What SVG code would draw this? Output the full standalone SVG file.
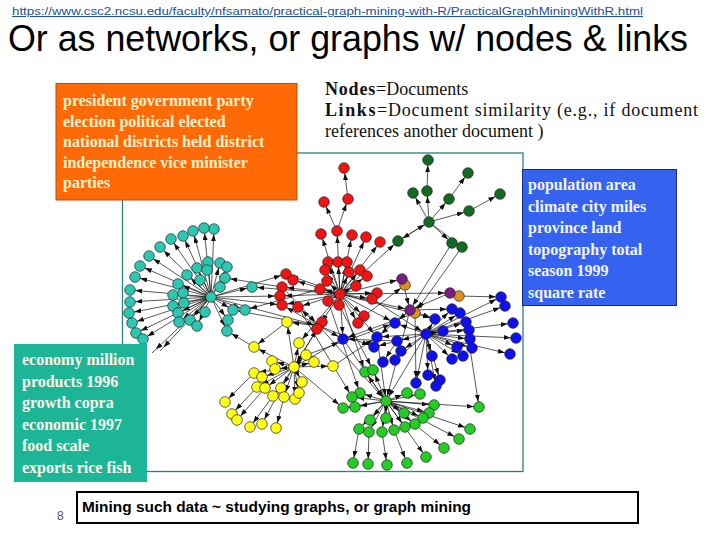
<svg xmlns="http://www.w3.org/2000/svg" width="720" height="540" viewBox="0 0 720 540">
<defs>
<marker id="ah" markerUnits="userSpaceOnUse" markerWidth="7" markerHeight="5" refX="12.3" refY="2.5" orient="auto"><path d="M0,0 L7,2.5 L0,5 z" fill="#111"/></marker>
<style>
.e line{stroke:#111;stroke-width:0.7;marker-end:url(#ah)}
.n circle{r:5.3;stroke:#222;stroke-width:0.7}
.cy{fill:#2cc7b3}.rd{fill:#f01414}.dg{fill:#136b22}.pu{fill:#7b1c86}.or{fill:#e0901e}.bl{fill:#1010ee}.lg{fill:#24cc24}.ye{fill:#ffff14}
.box{font-family:"Liberation Serif","Times New Roman",serif;font-weight:bold;font-size:16px}
</style>
</defs>
<rect width="720" height="540" fill="#fff"/>
<g id="url"><text x="12" y="15" font-family="Liberation Sans, Arial, sans-serif" font-size="10.5" fill="#1d4f9e" text-decoration="underline" textLength="631" lengthAdjust="spacingAndGlyphs">https://www.csc2.ncsu.edu/faculty/nfsamato/practical-graph-mining-with-R/PracticalGraphMiningWithR.html</text></g>
<g id="title"><text x="8" y="50.5" font-family="Liberation Sans, Arial, sans-serif" font-size="36" fill="#000" textLength="680" lengthAdjust="spacingAndGlyphs">Or as networks, or graphs w/ nodes &amp; links</text></g>
<g id="graph-frame"><rect x="122.5" y="153" width="400.5" height="318.5" fill="#fff" stroke="#2a7f80" stroke-width="1.3"/></g>
<g id="connectors" class="e">
<line x1="211" y1="297" x2="214" y2="229"/><line x1="211" y1="297" x2="204" y2="228"/><line x1="211" y1="297" x2="193" y2="231"/><line x1="211" y1="297" x2="183" y2="236"/><line x1="211" y1="297" x2="171" y2="239"/><line x1="211" y1="297" x2="160" y2="247"/><line x1="211" y1="297" x2="149" y2="256"/><line x1="211" y1="297" x2="140" y2="266"/><line x1="211" y1="297" x2="135" y2="277"/><line x1="211" y1="297" x2="130" y2="290"/><line x1="211" y1="297" x2="130" y2="302"/><line x1="211" y1="297" x2="129" y2="313"/><line x1="211" y1="297" x2="132" y2="323"/><line x1="211" y1="297" x2="136" y2="333"/><line x1="211" y1="297" x2="143" y2="339"/><line x1="211" y1="297" x2="208" y2="262"/><line x1="211" y1="297" x2="220" y2="263"/><line x1="211" y1="297" x2="227" y2="267"/><line x1="211" y1="297" x2="197" y2="268"/><line x1="211" y1="297" x2="187" y2="275"/><line x1="211" y1="297" x2="225" y2="278"/><line x1="211" y1="297" x2="178" y2="284"/><line x1="211" y1="297" x2="173" y2="295"/><line x1="211" y1="297" x2="173" y2="306"/><line x1="211" y1="297" x2="178" y2="313"/><line x1="211" y1="297" x2="190" y2="320"/><line x1="211" y1="297" x2="179" y2="322"/><line x1="211" y1="297" x2="197" y2="326"/><line x1="211" y1="297" x2="233" y2="310"/><line x1="211" y1="297" x2="245" y2="310"/><line x1="211" y1="297" x2="228" y2="320"/><line x1="211" y1="297" x2="227" y2="331"/><line x1="211" y1="297" x2="252" y2="287"/><line x1="211" y1="297" x2="152" y2="353"/><line x1="211" y1="297" x2="160" y2="351"/>
<line x1="211" y1="297" x2="286" y2="274"/><line x1="211" y1="297" x2="280" y2="296"/><line x1="211" y1="297" x2="282" y2="305"/><line x1="211" y1="297" x2="319" y2="326"/>
<line x1="340" y1="294" x2="252" y2="287"/><line x1="320" y1="289" x2="245" y2="310"/><line x1="319" y1="326" x2="233" y2="310"/><line x1="282" y1="287" x2="225" y2="278"/>
<line x1="340" y1="294" x2="337" y2="231"/><line x1="337" y1="231" x2="324" y2="202"/><line x1="337" y1="231" x2="348" y2="199"/><line x1="348" y1="199" x2="344" y2="168"/>
<line x1="340" y1="294" x2="321" y2="234"/><line x1="340" y1="294" x2="352" y2="235"/><line x1="340" y1="294" x2="366" y2="237"/><line x1="340" y1="294" x2="380" y2="242"/><line x1="340" y1="294" x2="328" y2="262"/><line x1="340" y1="294" x2="338" y2="262"/><line x1="340" y1="294" x2="347" y2="262"/><line x1="340" y1="294" x2="325" y2="270"/><line x1="340" y1="294" x2="349" y2="272"/><line x1="340" y1="294" x2="360" y2="270"/><line x1="340" y1="294" x2="367" y2="276"/><line x1="340" y1="294" x2="327" y2="281"/><line x1="340" y1="294" x2="356" y2="286"/><line x1="340" y1="294" x2="320" y2="289"/><line x1="340" y1="294" x2="328" y2="301"/><line x1="340" y1="294" x2="339" y2="305"/><line x1="340" y1="294" x2="377" y2="293"/><line x1="340" y1="294" x2="372" y2="299"/><line x1="340" y1="294" x2="364" y2="316"/><line x1="340" y1="294" x2="358" y2="323"/><line x1="340" y1="294" x2="286" y2="274"/><line x1="340" y1="294" x2="293" y2="280"/><line x1="340" y1="294" x2="282" y2="287"/><line x1="340" y1="294" x2="280" y2="296"/><line x1="340" y1="294" x2="282" y2="305"/><line x1="340" y1="294" x2="298" y2="307"/><line x1="340" y1="294" x2="319" y2="326"/>
<line x1="319" y1="326" x2="282" y2="305"/><line x1="319" y1="326" x2="298" y2="307"/><line x1="282" y1="287" x2="319" y2="326"/>
<line x1="340" y1="294" x2="398" y2="241"/><line x1="398" y1="241" x2="429" y2="222"/><line x1="429" y1="222" x2="398" y2="241"/>
<line x1="429" y1="222" x2="427" y2="191"/><line x1="427" y1="191" x2="428" y2="160"/><line x1="429" y1="222" x2="413" y2="193"/><line x1="429" y1="222" x2="449" y2="199"/><line x1="449" y1="199" x2="468" y2="173"/><line x1="429" y1="222" x2="469" y2="211"/><line x1="469" y1="211" x2="500" y2="194"/><line x1="429" y1="222" x2="452" y2="243"/><line x1="429" y1="222" x2="462" y2="247"/>
<line x1="452" y1="243" x2="410" y2="310"/><line x1="462" y1="247" x2="415" y2="313"/>
<line x1="340" y1="294" x2="402" y2="279"/><line x1="340" y1="294" x2="450" y2="293"/><line x1="402" y1="279" x2="410" y2="310"/><line x1="450" y1="293" x2="410" y2="310"/><line x1="340" y1="294" x2="410" y2="310"/><line x1="364" y1="316" x2="405" y2="285"/>
<line x1="410" y1="310" x2="377" y2="337"/><line x1="410" y1="310" x2="395" y2="323"/><line x1="410" y1="310" x2="435" y2="319"/><line x1="410" y1="310" x2="452" y2="309"/><line x1="459" y1="296" x2="501" y2="297"/><line x1="410" y1="310" x2="386" y2="401"/><line x1="415" y1="313" x2="343" y2="339"/><line x1="415" y1="313" x2="416" y2="383"/>
<line x1="426" y1="334" x2="501" y2="297"/><line x1="426" y1="334" x2="505" y2="306"/><line x1="426" y1="334" x2="452" y2="309"/><line x1="426" y1="334" x2="460" y2="313"/><line x1="426" y1="334" x2="513" y2="323"/><line x1="426" y1="334" x2="435" y2="319"/><line x1="426" y1="334" x2="466" y2="322"/><line x1="426" y1="334" x2="395" y2="323"/><line x1="426" y1="334" x2="469" y2="330"/><line x1="426" y1="334" x2="443" y2="331"/><line x1="426" y1="334" x2="516" y2="338"/><line x1="426" y1="334" x2="377" y2="337"/><line x1="426" y1="334" x2="397" y2="341"/><line x1="426" y1="334" x2="470" y2="339"/><line x1="426" y1="334" x2="457" y2="347"/><line x1="426" y1="334" x2="472" y2="348"/><line x1="426" y1="334" x2="510" y2="354"/><line x1="426" y1="334" x2="432" y2="356"/><line x1="426" y1="334" x2="452" y2="359"/><line x1="426" y1="334" x2="463" y2="356"/><line x1="426" y1="334" x2="428" y2="375"/><line x1="426" y1="334" x2="440" y2="380"/><line x1="426" y1="334" x2="416" y2="383"/><line x1="426" y1="334" x2="436" y2="386"/><line x1="426" y1="334" x2="401" y2="351"/><line x1="426" y1="334" x2="395" y2="360"/>
<line x1="397" y1="341" x2="343" y2="339"/><line x1="397" y1="341" x2="374" y2="347"/><line x1="397" y1="341" x2="383" y2="362"/><line x1="397" y1="341" x2="401" y2="351"/>
<line x1="340" y1="294" x2="343" y2="339"/><line x1="340" y1="294" x2="377" y2="337"/><line x1="340" y1="294" x2="395" y2="323"/><line x1="340" y1="294" x2="435" y2="319"/><line x1="319" y1="326" x2="374" y2="347"/><line x1="319" y1="326" x2="343" y2="339"/><line x1="466" y1="322" x2="479" y2="407"/><line x1="372" y1="299" x2="426" y2="334"/>
<line x1="386" y1="401" x2="365" y2="372"/><line x1="386" y1="401" x2="373" y2="370"/><line x1="386" y1="401" x2="360" y2="393"/><line x1="386" y1="401" x2="352" y2="397"/><line x1="386" y1="401" x2="343" y2="408"/><line x1="386" y1="401" x2="355" y2="407"/><line x1="386" y1="401" x2="407" y2="393"/><line x1="386" y1="401" x2="420" y2="394"/><line x1="386" y1="401" x2="434" y2="405"/><line x1="386" y1="401" x2="429" y2="413"/><line x1="386" y1="401" x2="479" y2="407"/><line x1="386" y1="401" x2="370" y2="420"/><line x1="386" y1="401" x2="386" y2="418"/><line x1="386" y1="401" x2="404" y2="413"/><line x1="386" y1="401" x2="423" y2="418"/><line x1="386" y1="401" x2="415" y2="424"/><line x1="386" y1="401" x2="359" y2="429"/><line x1="386" y1="401" x2="369" y2="432"/><line x1="386" y1="401" x2="382" y2="432"/><line x1="386" y1="401" x2="394" y2="430"/><line x1="386" y1="401" x2="405" y2="427"/><line x1="386" y1="401" x2="470" y2="429"/><line x1="386" y1="401" x2="459" y2="439"/><line x1="386" y1="401" x2="444" y2="448"/><line x1="386" y1="401" x2="426" y2="457"/>
<line x1="359" y1="429" x2="353" y2="463"/><line x1="369" y1="432" x2="368" y2="464"/><line x1="382" y1="432" x2="387" y2="465"/><line x1="394" y1="430" x2="407" y2="463"/>
<line x1="426" y1="334" x2="386" y2="401"/><line x1="377" y1="337" x2="386" y2="401"/><line x1="343" y1="339" x2="386" y2="401"/><line x1="319" y1="326" x2="386" y2="401"/><line x1="340" y1="294" x2="365" y2="372"/><line x1="328" y1="301" x2="360" y2="393"/><line x1="298" y1="307" x2="352" y2="397"/><line x1="339" y1="305" x2="373" y2="370"/>
<line x1="294" y1="367" x2="287" y2="322"/><line x1="294" y1="367" x2="299" y2="343"/><line x1="294" y1="367" x2="306" y2="355"/><line x1="294" y1="367" x2="314" y2="362"/><line x1="294" y1="367" x2="333" y2="366"/><line x1="294" y1="367" x2="272" y2="361"/><line x1="294" y1="367" x2="275" y2="369"/><line x1="294" y1="367" x2="254" y2="373"/><line x1="294" y1="367" x2="262" y2="377"/><line x1="294" y1="367" x2="257" y2="387"/><line x1="294" y1="367" x2="265" y2="388"/><line x1="294" y1="367" x2="281" y2="388"/><line x1="294" y1="367" x2="302" y2="382"/><line x1="294" y1="367" x2="284" y2="397"/><line x1="294" y1="367" x2="273" y2="396"/><line x1="294" y1="367" x2="295" y2="399"/><line x1="294" y1="367" x2="299" y2="393"/>
<line x1="254" y1="373" x2="225" y2="402"/><line x1="257" y1="387" x2="232" y2="414"/><line x1="265" y1="388" x2="237" y2="420"/><line x1="273" y1="396" x2="250" y2="427"/><line x1="281" y1="388" x2="262" y2="424"/><line x1="284" y1="397" x2="276" y2="428"/>
<line x1="287" y1="322" x2="254" y2="347"/><line x1="254" y1="347" x2="227" y2="331"/><line x1="294" y1="367" x2="254" y2="347"/><line x1="319" y1="326" x2="287" y2="322"/><line x1="319" y1="326" x2="294" y2="367"/><line x1="340" y1="294" x2="299" y2="343"/><line x1="294" y1="367" x2="343" y2="339"/><line x1="294" y1="367" x2="343" y2="408"/><line x1="333" y1="366" x2="377" y2="337"/><line x1="294" y1="367" x2="319" y2="326"/><line x1="306" y1="355" x2="395" y2="323"/>
</g>
<g id="nodes" class="n">
<g id="cyan-cluster" class="cy">
<circle cx="214" cy="229"/><circle cx="204" cy="228"/><circle cx="193" cy="231"/><circle cx="183" cy="236"/><circle cx="171" cy="239"/><circle cx="160" cy="247"/><circle cx="149" cy="256"/><circle cx="140" cy="266"/><circle cx="135" cy="277"/><circle cx="130" cy="290"/><circle cx="130" cy="302"/><circle cx="129" cy="313"/><circle cx="132" cy="323"/><circle cx="136" cy="333"/><circle cx="143" cy="339"/>
<circle cx="208" cy="262"/><circle cx="220" cy="263"/><circle cx="227" cy="267"/><circle cx="197" cy="268"/><circle cx="207" cy="270"/><circle cx="187" cy="275"/><circle cx="225" cy="278"/><circle cx="200" cy="280"/><circle cx="178" cy="284"/><circle cx="220" cy="287"/><circle cx="173" cy="295"/><circle cx="183" cy="293"/><circle cx="173" cy="306"/><circle cx="184" cy="303"/><circle cx="178" cy="313"/><circle cx="190" cy="320"/><circle cx="179" cy="322"/><circle cx="197" cy="326"/><circle cx="205" cy="312"/><circle cx="233" cy="310"/><circle cx="245" cy="310"/><circle cx="228" cy="320"/><circle cx="227" cy="331"/><circle cx="252" cy="287"/><circle cx="211" cy="297"/>
</g>
<g id="red-cluster" class="rd">
<circle cx="344" cy="168"/><circle cx="348" cy="199"/><circle cx="324" cy="202"/><circle cx="337" cy="231"/><circle cx="321" cy="234"/><circle cx="352" cy="235"/><circle cx="366" cy="237"/><circle cx="380" cy="242"/>
<circle cx="328" cy="262"/><circle cx="338" cy="262"/><circle cx="347" cy="262"/><circle cx="325" cy="270"/><circle cx="349" cy="272"/><circle cx="360" cy="270"/><circle cx="367" cy="276"/><circle cx="327" cy="281"/><circle cx="356" cy="286"/><circle cx="320" cy="289"/><circle cx="328" cy="301"/><circle cx="339" cy="305"/><circle cx="377" cy="293"/><circle cx="372" cy="299"/><circle cx="364" cy="316"/><circle cx="358" cy="323"/><circle cx="286" cy="274"/><circle cx="293" cy="280"/><circle cx="282" cy="287"/><circle cx="280" cy="296"/><circle cx="282" cy="305"/><circle cx="298" cy="307"/><circle cx="322" cy="322"/><circle cx="317" cy="329"/><circle cx="340" cy="294"/>
</g>
<g id="darkgreen-cluster" class="dg">
<circle cx="428" cy="160"/><circle cx="427" cy="191"/><circle cx="413" cy="193"/><circle cx="449" cy="199"/><circle cx="468" cy="173"/><circle cx="469" cy="211"/><circle cx="500" cy="194"/><circle cx="452" cy="243"/><circle cx="462" cy="247"/><circle cx="398" cy="241"/><circle cx="429" cy="222"/>
</g>
<g id="orange-nodes" class="or"><circle cx="405" cy="285"/><circle cx="459" cy="296"/><circle cx="415" cy="313"/></g>
<g id="purple-nodes" class="pu"><circle cx="402" cy="279"/><circle cx="450" cy="293"/><circle cx="410" cy="310"/></g>
<g id="blue-cluster" class="bl">
<circle cx="501" cy="297"/><circle cx="505" cy="306"/><circle cx="452" cy="309"/><circle cx="460" cy="313"/><circle cx="513" cy="323"/><circle cx="435" cy="319"/><circle cx="466" cy="322"/><circle cx="395" cy="323"/><circle cx="469" cy="330"/><circle cx="443" cy="331"/><circle cx="516" cy="338"/><circle cx="377" cy="337"/><circle cx="397" cy="341"/><circle cx="470" cy="339"/><circle cx="343" cy="339"/><circle cx="374" cy="347"/><circle cx="401" cy="351"/><circle cx="457" cy="347"/><circle cx="472" cy="348"/><circle cx="510" cy="354"/><circle cx="432" cy="356"/><circle cx="452" cy="359"/><circle cx="463" cy="356"/><circle cx="383" cy="362"/><circle cx="395" cy="360"/><circle cx="428" cy="375"/><circle cx="440" cy="380"/><circle cx="416" cy="383"/><circle cx="436" cy="386"/><circle cx="426" cy="334"/>
</g>
<g id="lightgreen-cluster" class="lg">
<circle cx="365" cy="372"/><circle cx="373" cy="370"/><circle cx="360" cy="393"/><circle cx="352" cy="397"/><circle cx="343" cy="408"/><circle cx="355" cy="407"/><circle cx="407" cy="393"/><circle cx="420" cy="394"/><circle cx="434" cy="405"/><circle cx="429" cy="413"/><circle cx="479" cy="407"/><circle cx="370" cy="420"/><circle cx="386" cy="418"/><circle cx="404" cy="413"/><circle cx="423" cy="418"/><circle cx="415" cy="424"/><circle cx="359" cy="429"/><circle cx="369" cy="432"/><circle cx="382" cy="432"/><circle cx="394" cy="430"/><circle cx="405" cy="427"/><circle cx="470" cy="429"/><circle cx="459" cy="439"/><circle cx="444" cy="448"/><circle cx="426" cy="457"/><circle cx="407" cy="463"/><circle cx="387" cy="465"/><circle cx="368" cy="464"/><circle cx="353" cy="463"/><circle cx="386" cy="401"/>
</g>
<g id="yellow-cluster" class="ye">
<circle cx="287" cy="322"/><circle cx="299" cy="343"/><circle cx="254" cy="347"/><circle cx="306" cy="355"/><circle cx="314" cy="362"/><circle cx="333" cy="366"/><circle cx="272" cy="361"/><circle cx="275" cy="369"/><circle cx="254" cy="373"/><circle cx="262" cy="377"/><circle cx="257" cy="387"/><circle cx="265" cy="388"/><circle cx="281" cy="388"/><circle cx="302" cy="382"/><circle cx="284" cy="397"/><circle cx="273" cy="396"/><circle cx="295" cy="399"/><circle cx="299" cy="393"/><circle cx="225" cy="402"/><circle cx="232" cy="414"/><circle cx="237" cy="420"/><circle cx="250" cy="427"/><circle cx="262" cy="424"/><circle cx="276" cy="428"/><circle cx="294" cy="367"/>
</g>
</g>
<g id="politics-box">
<rect x="56" y="83.5" width="241" height="116.5" fill="#ff6a06" stroke="#b94a10" stroke-width="1"/>
<text class="box" fill="#fff2cc"><tspan x="63" y="106">president government party</tspan><tspan x="63" y="126.5">election political elected</tspan><tspan x="63" y="147">national districts held district</tspan><tspan x="63" y="167.5">independence vice minister</tspan><tspan x="63" y="188">parties</tspan></text>
</g>
<g id="legend">
<text font-family="Liberation Serif, Times New Roman, serif" font-size="18" fill="#111"><tspan x="325" y="95" font-weight="bold" letter-spacing="0.8">Nodes</tspan><tspan>=Documents</tspan></text>
<text font-family="Liberation Serif, Times New Roman, serif" font-size="18" fill="#111" textLength="373" lengthAdjust="spacing" x="325" y="116"><tspan font-weight="bold" letter-spacing="0.8">Links</tspan><tspan>=Document similarity (e.g., if document</tspan></text>
<text x="325" y="137" font-family="Liberation Serif, Times New Roman, serif" font-size="18" fill="#111">references another document )</text>
</g>
<g id="geography-box">
<rect x="522.5" y="169.5" width="154" height="136" fill="#3563f0" stroke="#1a2a80" stroke-width="1"/>
<text class="box" fill="#f2f4ff"><tspan x="528" y="190">population area</tspan><tspan x="528" y="211.5">climate city miles</tspan><tspan x="528" y="233">province land</tspan><tspan x="528" y="254.5">topography total</tspan><tspan x="528" y="276">season 1999</tspan><tspan x="528" y="297.5">square rate</tspan></text>
</g>
<g id="economy-box">
<rect x="14" y="344" width="133" height="138" fill="#1db597"/>
<text class="box" fill="#fff8e6"><tspan x="22" y="365">economy million</tspan><tspan x="22" y="386.5">products 1996</tspan><tspan x="22" y="408">growth copra</tspan><tspan x="22" y="429.5">economic 1997</tspan><tspan x="22" y="451">food scale</tspan><tspan x="22" y="472.5">exports rice fish</tspan></text>
</g>
<g id="caption">
<rect x="77" y="492" width="561" height="31" fill="#fff" stroke="#000" stroke-width="2"/>
<text x="82" y="512" font-family="Liberation Sans, Arial, sans-serif" font-size="15" font-weight="bold" fill="#000" textLength="389" lengthAdjust="spacingAndGlyphs">Mining such data ~ studying graphs, or graph mining</text>
</g>
<g id="page-number"><text x="57" y="520" font-family="Liberation Sans, Arial, sans-serif" font-size="12" fill="#555">8</text></g>
</svg>
